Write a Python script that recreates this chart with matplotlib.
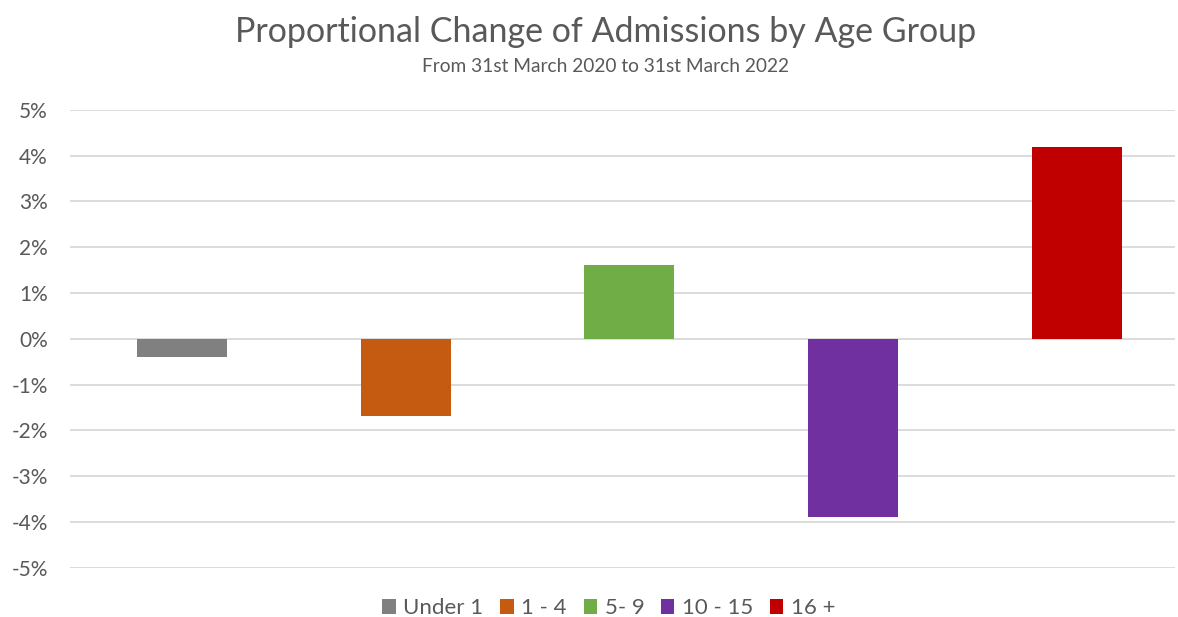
import numpy as np
import matplotlib.pyplot as plt
from matplotlib.ticker import FuncFormatter

plt.rcParams['font.family'] = ['Lato', 'DejaVu Sans']

# data
groups = ['Under 1', '1 - 4', '5- 9', '10 - 15', '16 +']
changes = [-0.40, -1.69, 1.62, -3.90, 4.19]   # percent
colours = ['#808080', '#c55a11', '#70ad47', '#7030a0', '#c00000']

txt = '#595959'

fig = plt.figure(figsize=(11.78, 6.17), dpi=100)
ax = fig.add_axes([0.0594, 0.080, 0.938, 0.742])

x = np.arange(len(groups))
for i in range(len(groups)):
    ax.bar(x[i], changes[i], width=0.402, color=colours[i], label=groups[i], zorder=3)

ax.set_xlim(-0.5006, 4.438)
ax.set_ylim(-5, 5)
ax.set_yticks(np.arange(-5, 6, 1))
ax.yaxis.set_major_formatter(FuncFormatter(lambda v, p: '%d%%' % v))
ax.set_xticks([])
ax.grid(axis='y', color='#d9d9d9', linewidth=1.3, zorder=0)
for s in ax.spines.values():
    s.set_visible(False)
ax.tick_params(axis='y', length=0, pad=16, labelsize=15, labelcolor=txt)

fig.text(0.514, 0.948, 'Proportional Change of Admissions by Age Group',
         ha='center', va='center', fontsize=24.5, color=txt)
fig.text(0.514, 0.892, 'From 31st March 2020 to 31st March 2022',
         ha='center', va='center', fontsize=13.8, color=txt)

leg = fig.legend(loc='center', bbox_to_anchor=(0.517, 0.014), ncol=5, frameon=False,
                 fontsize=16, handlelength=0.6, handleheight=0.6,
                 handletextpad=0.35, columnspacing=0.75, labelcolor=txt)

fig.savefig('out.png', dpi=100)
